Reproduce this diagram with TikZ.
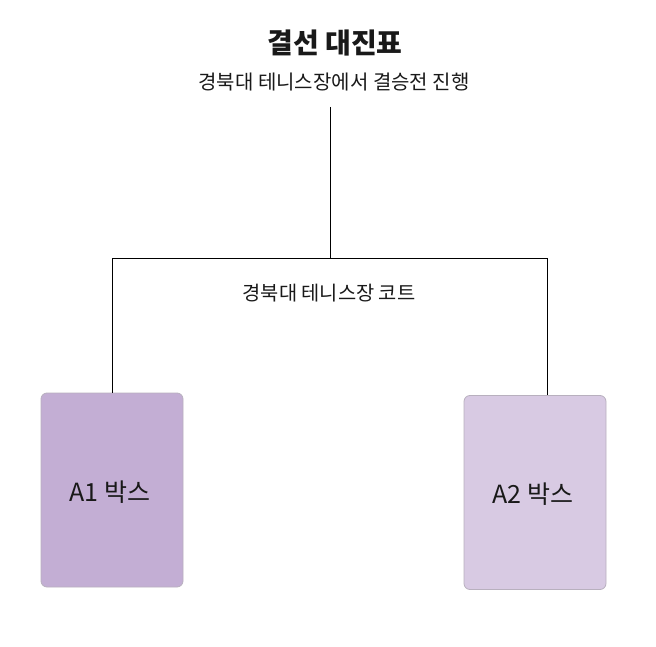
\documentclass[tikz,border=0pt]{standalone}
\usepackage{fontspec}
\setmainfont{Noto Sans CJK KR}
\definecolor{boxA}{HTML}{C3AED4}
\definecolor{boxB}{HTML}{D8CAE3}
\definecolor{boxline}{HTML}{B8B0BE}
\begin{document}
\begin{tikzpicture}[x=1pt,y=-1pt,
  conn/.style={draw=black,line width=0.9pt},
  card/.style={rounded corners=6pt,draw=boxline,line width=0.8pt,minimum width=142pt,minimum height=194pt,inner sep=0pt},
  lbl/.style={inner sep=0pt,text=black!90}]
\useasboundingbox (0,0) rectangle (656,647);
\node[lbl,font=\fontsize{28}{32}\selectfont\bfseries] (title) at (335,43) {결선 대진표};
\node[lbl,font=\fontsize{20}{24}\selectfont] (sub) at (334,82) {경북대 테니스장에서 결승전 진행};
\coordinate (top) at (330,107);
\coordinate (join) at (330,258);
\coordinate (jl) at (112,258);
\coordinate (jr) at (547,258);
\node[lbl,font=\fontsize{19.8}{24}\selectfont] (court) at (329,293) {경북대 테니스장 코트};
\node[card,fill=boxA] (a1) at (112,490) {};
\node[card,fill=boxB] (a2) at (535,492.5) {};
\node[lbl,font=\fontsize{25}{30}\selectfont] (t1) at (110,492) {A1 박스};
\node[lbl,font=\fontsize{25}{30}\selectfont] (t2) at (533,494) {A2 박스};
\draw[conn] (top) -- (join);
\draw[conn] (a1.north) -- (jl) -- (jr) -- (a2.north -| jr);
\end{tikzpicture}
\end{document}
